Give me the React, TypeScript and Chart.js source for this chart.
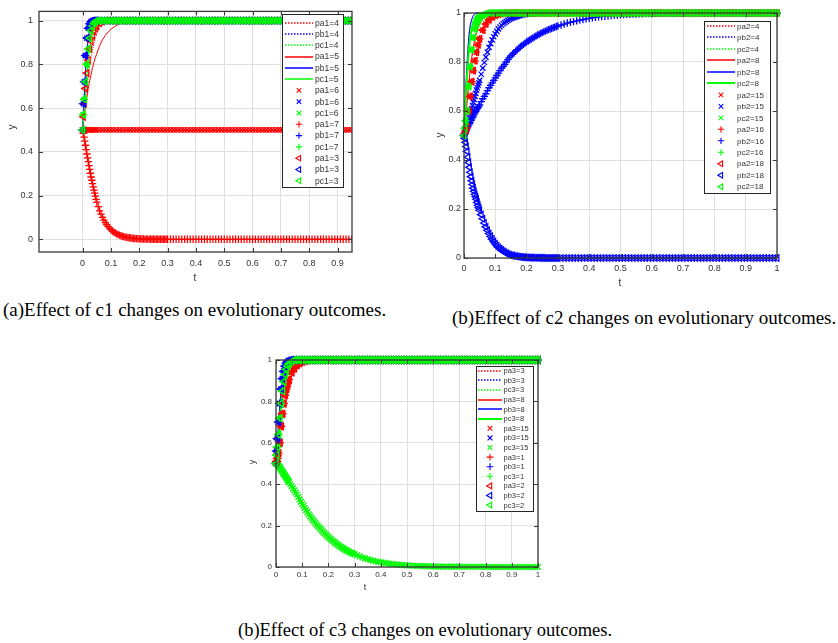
import React, { useEffect, useRef } from 'react';
import { Chart, registerables } from 'chart.js';

Chart.register(...registerables);

// ---------- time axis (t) for most series ----------
const T = [
  0, 0.003, 0.006, 0.01, 0.015, 0.02, 0.025, 0.03, 0.035, 0.04, 0.045, 0.05,
  0.06, 0.07, 0.08, 0.09, 0.1, 0.11, 0.12, 0.13, 0.14, 0.15, 0.16, 0.17, 0.18, 0.19, 0.2,
  0.21, 0.22, 0.23, 0.24, 0.25, 0.26, 0.27, 0.28, 0.29, 0.3,
  0.31, 0.32, 0.33, 0.34, 0.35, 0.36, 0.37, 0.38, 0.39, 0.4,
  0.41, 0.42, 0.43, 0.44, 0.45, 0.46, 0.47, 0.48, 0.49, 0.5,
  0.51, 0.52, 0.53, 0.54, 0.55, 0.56, 0.57, 0.58, 0.59, 0.6,
  0.61, 0.62, 0.63, 0.64, 0.65, 0.66, 0.67, 0.68, 0.69, 0.7,
  0.71, 0.72, 0.73, 0.74, 0.75, 0.76, 0.77, 0.78, 0.79, 0.8,
  0.81, 0.82, 0.83, 0.84, 0.85, 0.86, 0.87, 0.88, 0.89, 0.9,
  0.91, 0.92, 0.93, 0.94, 0.95, 0.96, 0.97, 0.98, 0.99, 1,
];

// ---------- denser time axis for the slowly changing marker series ----------
const T2 = [
  0, 0.0025, 0.005, 0.0075, 0.01, 0.0125, 0.015, 0.0175, 0.02, 0.0225, 0.025,
  0.0275, 0.03, 0.0325, 0.035, 0.0375, 0.04, 0.0425, 0.045, 0.0475, 0.05,
  0.055, 0.06, 0.065, 0.07, 0.075, 0.08, 0.085, 0.09, 0.095, 0.1,
  0.105, 0.11, 0.115, 0.12, 0.125, 0.13, 0.135, 0.14, 0.145, 0.15,
  0.155, 0.16, 0.165, 0.17, 0.175, 0.18, 0.185, 0.19, 0.195, 0.2,
  0.205, 0.21, 0.215, 0.22, 0.225, 0.23, 0.235, 0.24, 0.245, 0.25,
  0.255, 0.26, 0.265, 0.27, 0.275, 0.28, 0.285, 0.29, 0.295, 0.3,
  0.31, 0.32, 0.33, 0.34, 0.35, 0.36, 0.37, 0.38, 0.39, 0.4,
  0.41, 0.42, 0.43, 0.44, 0.45, 0.46, 0.47, 0.48, 0.49, 0.5,
  0.51, 0.52, 0.53, 0.54, 0.55, 0.56, 0.57, 0.58, 0.59, 0.6,
  0.61, 0.62, 0.63, 0.64, 0.65, 0.66, 0.67, 0.68, 0.69, 0.7,
  0.71, 0.72, 0.73, 0.74, 0.75, 0.76, 0.77, 0.78, 0.79, 0.8,
  0.81, 0.82, 0.83, 0.84, 0.85, 0.86, 0.87, 0.88, 0.89, 0.9,
  0.91, 0.92, 0.93, 0.94, 0.95, 0.96, 0.97, 0.98, 0.99, 1,
];

// tails of T for t = 0.21 .. 1.00 (80 values)
const TAIL_ONE = [
  1, 1, 1, 1, 1, 1, 1, 1, 1, 1,
  1, 1, 1, 1, 1, 1, 1, 1, 1, 1,
  1, 1, 1, 1, 1, 1, 1, 1, 1, 1,
  1, 1, 1, 1, 1, 1, 1, 1, 1, 1,
  1, 1, 1, 1, 1, 1, 1, 1, 1, 1,
  1, 1, 1, 1, 1, 1, 1, 1, 1, 1,
  1, 1, 1, 1, 1, 1, 1, 1, 1, 1,
  1, 1, 1, 1, 1, 1, 1, 1, 1, 1,
];
const TAIL_HALF = [
  0.5, 0.5, 0.5, 0.5, 0.5, 0.5, 0.5, 0.5, 0.5, 0.5,
  0.5, 0.5, 0.5, 0.5, 0.5, 0.5, 0.5, 0.5, 0.5, 0.5,
  0.5, 0.5, 0.5, 0.5, 0.5, 0.5, 0.5, 0.5, 0.5, 0.5,
  0.5, 0.5, 0.5, 0.5, 0.5, 0.5, 0.5, 0.5, 0.5, 0.5,
  0.5, 0.5, 0.5, 0.5, 0.5, 0.5, 0.5, 0.5, 0.5, 0.5,
  0.5, 0.5, 0.5, 0.5, 0.5, 0.5, 0.5, 0.5, 0.5, 0.5,
  0.5, 0.5, 0.5, 0.5, 0.5, 0.5, 0.5, 0.5, 0.5, 0.5,
  0.5, 0.5, 0.5, 0.5, 0.5, 0.5, 0.5, 0.5, 0.5, 0.5,
];

// tails of T2 for t = 0.31 .. 1.00 (70 values)
const TAIL2_ONE = [
  1, 1, 1, 1, 1, 1, 1, 1, 1, 1,
  1, 1, 1, 1, 1, 1, 1, 1, 1, 1,
  1, 1, 1, 1, 1, 1, 1, 1, 1, 1,
  1, 1, 1, 1, 1, 1, 1, 1, 1, 1,
  1, 1, 1, 1, 1, 1, 1, 1, 1, 1,
  1, 1, 1, 1, 1, 1, 1, 1, 1, 1,
  1, 1, 1, 1, 1, 1, 1, 1, 1, 1,
];
const TAIL2_ZERO = [
  0, 0, 0, 0, 0, 0, 0, 0, 0, 0,
  0, 0, 0, 0, 0, 0, 0, 0, 0, 0,
  0, 0, 0, 0, 0, 0, 0, 0, 0, 0,
  0, 0, 0, 0, 0, 0, 0, 0, 0, 0,
  0, 0, 0, 0, 0, 0, 0, 0, 0, 0,
  0, 0, 0, 0, 0, 0, 0, 0, 0, 0,
  0, 0, 0, 0, 0, 0, 0, 0, 0, 0,
];

// ---------- (a) c1 : heads on T for t = 0 .. 0.2 (27 values) ----------
const A_BLUE = [0.5, 0.62, 0.72, 0.84, 0.92, 0.965, 0.985, 0.995, 1, 1, 1, 1, 1, 1, 1, 1, 1, 1, 1, 1, 1, 1, 1, 1, 1, 1, 1];
const A_BLUE2 = [0.5, 0.58, 0.66, 0.76, 0.86, 0.92, 0.96, 0.98, 0.99, 0.996, 1, 1, 1, 1, 1, 1, 1, 1, 1, 1, 1, 1, 1, 1, 1, 1, 1];
const A_GREEN = [0.5, 0.57, 0.64, 0.72, 0.8, 0.87, 0.92, 0.955, 0.975, 0.988, 0.995, 1, 1, 1, 1, 1, 1, 1, 1, 1, 1, 1, 1, 1, 1, 1, 1];
const A_GREEN2 = [0.5, 0.55, 0.6, 0.67, 0.75, 0.82, 0.875, 0.915, 0.945, 0.965, 0.978, 0.987, 0.995, 1, 1, 1, 1, 1, 1, 1, 1, 1, 1, 1, 1, 1, 1];
const A_RED3 = [0.5, 0.56, 0.62, 0.69, 0.76, 0.82, 0.87, 0.905, 0.93, 0.95, 0.965, 0.975, 0.988, 0.995, 1, 1, 1, 1, 1, 1, 1, 1, 1, 1, 1, 1, 1];
const A_RED4 = [0.5, 0.54, 0.58, 0.63, 0.69, 0.745, 0.79, 0.83, 0.865, 0.895, 0.92, 0.94, 0.965, 0.98, 0.99, 0.995, 1, 1, 1, 1, 1, 1, 1, 1, 1, 1, 1];
const A_RED5 = [0.5, 0.535, 0.57, 0.61, 0.65, 0.69, 0.725, 0.755, 0.785, 0.81, 0.83, 0.85, 0.885, 0.912, 0.932, 0.948, 0.96, 0.97, 0.978, 0.985, 0.99, 0.993, 0.996, 0.998, 0.999, 1, 1];
const A_HALF = [0.5, 0.5, 0.5, 0.5, 0.5, 0.5, 0.5, 0.5, 0.5, 0.5, 0.5, 0.5, 0.5, 0.5, 0.5, 0.5, 0.5, 0.5, 0.5, 0.5, 0.5, 0.5, 0.5, 0.5, 0.5, 0.5, 0.5];
// pa1=7 on T2, t = 0 .. 0.3 (71 values)
const A_DOWN = [
  0.5, 0.484, 0.467, 0.449, 0.43, 0.41, 0.39, 0.372, 0.355, 0.337, 0.32,
  0.302, 0.285, 0.27, 0.255, 0.24, 0.225, 0.211, 0.197, 0.183, 0.17,
  0.149, 0.13, 0.115, 0.1, 0.088, 0.076, 0.067, 0.058, 0.051, 0.044,
  0.038, 0.033, 0.029, 0.025, 0.022, 0.019, 0.016, 0.014, 0.012, 0.011,
  0.009, 0.008, 0.007, 0.006, 0.005, 0.004, 0.0035, 0.003, 0.0025, 0.002,
  0.002, 0.0015, 0.0015, 0.001, 0.001, 0.001, 0.001, 0.0005, 0.0005, 0.0005,
  0, 0, 0, 0, 0, 0, 0, 0, 0, 0,
];

// ---------- (b) c2 ----------
const B_BLUE_FAST = [0.5, 0.6, 0.7, 0.8, 0.9, 0.95, 0.975, 0.99, 0.996, 1, 1, 1, 1, 1, 1, 1, 1, 1, 1, 1, 1, 1, 1, 1, 1, 1, 1];
const B_RED = [0.5, 0.51, 0.52, 0.535, 0.6, 0.66, 0.72, 0.765, 0.805, 0.84, 0.87, 0.895, 0.93, 0.955, 0.972, 0.984, 0.991, 0.995, 0.998, 1, 1, 1, 1, 1, 1, 1, 1];
const B_RED2 = [0.5, 0.54, 0.58, 0.64, 0.71, 0.77, 0.82, 0.86, 0.895, 0.92, 0.94, 0.955, 0.975, 0.988, 0.995, 1, 1, 1, 1, 1, 1, 1, 1, 1, 1, 1, 1];
const B_GREEN = [0.5, 0.53, 0.56, 0.6, 0.7, 0.78, 0.85, 0.9, 0.935, 0.955, 0.97, 0.98, 0.99, 0.996, 1, 1, 1, 1, 1, 1, 1, 1, 1, 1, 1, 1, 1];
const B_GREEN2 = [0.5, 0.58, 0.66, 0.75, 0.84, 0.9, 0.94, 0.965, 0.98, 0.99, 0.995, 1, 1, 1, 1, 1, 1, 1, 1, 1, 1, 1, 1, 1, 1, 1, 1];
// pb2=15 on T2 (71 values)
const B_BLUE_X = [
  0.5, 0.508, 0.516, 0.525, 0.535, 0.547, 0.56, 0.572, 0.585, 0.597, 0.61,
  0.622, 0.635, 0.647, 0.66, 0.672, 0.685, 0.695, 0.705, 0.715, 0.725,
  0.75, 0.775, 0.798, 0.82, 0.84, 0.86, 0.875, 0.89, 0.903, 0.915,
  0.925, 0.935, 0.943, 0.95, 0.956, 0.961, 0.966, 0.97, 0.974, 0.977,
  0.98, 0.982, 0.984, 0.986, 0.988, 0.99, 0.992, 0.993, 0.994, 0.995,
  0.996, 0.996, 0.997, 0.997, 0.998, 0.998, 0.999, 0.999, 0.999, 1,
  1, 1, 1, 1, 1, 1, 1, 1, 1, 1,
];
// pb2=16 on T2 (71 + 70 values)
const B_PLUS = [
  0.5, 0.507, 0.514, 0.521, 0.53, 0.536, 0.543, 0.549, 0.555, 0.562, 0.568,
  0.574, 0.58, 0.587, 0.593, 0.599, 0.605, 0.61, 0.615, 0.62, 0.625,
  0.638, 0.65, 0.66, 0.67, 0.683, 0.695, 0.705, 0.715, 0.725, 0.735,
  0.745, 0.755, 0.765, 0.775, 0.782, 0.79, 0.8, 0.81, 0.818, 0.825,
  0.832, 0.838, 0.844, 0.85, 0.856, 0.862, 0.867, 0.872, 0.877, 0.882,
  0.886, 0.89, 0.894, 0.898, 0.902, 0.906, 0.91, 0.913, 0.917, 0.92,
  0.923, 0.926, 0.929, 0.932, 0.935, 0.937, 0.94, 0.942, 0.945, 0.947,
];
const B_PLUS_TAIL = [
  0.951, 0.955, 0.959, 0.962, 0.965, 0.968, 0.971, 0.973, 0.976, 0.978,
  0.98, 0.982, 0.984, 0.986, 0.987, 0.988, 0.99, 0.991, 0.992, 0.993,
  0.994, 0.995, 0.995, 0.996, 0.996, 0.997, 0.997, 0.998, 0.998, 0.998,
  0.999, 0.999, 0.999, 0.999, 0.999, 0.999, 0.999, 0.999, 0.999, 0.999,
  1, 1, 1, 1, 1, 1, 1, 1, 1, 1,
  1, 1, 1, 1, 1, 1, 1, 1, 1, 1,
  1, 1, 1, 1, 1, 1, 1, 1, 1, 1,
];
// pb2=18 on T2 (71 values)
const B_DOWN = [
  0.5, 0.488, 0.472, 0.455, 0.435, 0.412, 0.39, 0.37, 0.35, 0.332, 0.315,
  0.3, 0.285, 0.272, 0.26, 0.25, 0.24, 0.227, 0.215, 0.205, 0.195,
  0.177, 0.16, 0.143, 0.127, 0.113, 0.1, 0.088, 0.077, 0.067, 0.058,
  0.05, 0.043, 0.037, 0.032, 0.027, 0.023, 0.019, 0.016, 0.013, 0.011,
  0.0095, 0.008, 0.007, 0.006, 0.005, 0.004, 0.0035, 0.003, 0.0025, 0.002,
  0.002, 0.0015, 0.0015, 0.001, 0.001, 0.001, 0.001, 0.0005, 0.0005, 0.0005,
  0, 0, 0, 0, 0, 0, 0, 0, 0, 0,
];

// ---------- (c) c3 ----------
const C_BLUE = [0.5, 0.56, 0.62, 0.7, 0.79, 0.86, 0.91, 0.945, 0.97, 0.985, 0.993, 0.997, 1, 1, 1, 1, 1, 1, 1, 1, 1, 1, 1, 1, 1, 1, 1];
const C_GREEN = [0.5, 0.54, 0.58, 0.64, 0.72, 0.79, 0.85, 0.895, 0.93, 0.955, 0.972, 0.983, 0.994, 1, 1, 1, 1, 1, 1, 1, 1, 1, 1, 1, 1, 1, 1];
const C_RED = [0.5, 0.51, 0.525, 0.55, 0.6, 0.68, 0.74, 0.79, 0.83, 0.86, 0.885, 0.905, 0.94, 0.96, 0.975, 0.985, 0.992, 0.996, 0.998, 1, 1, 1, 1, 1, 1, 1, 1];
const C_RED2 = [0.5, 0.54, 0.58, 0.64, 0.71, 0.78, 0.83, 0.87, 0.9, 0.925, 0.945, 0.96, 0.978, 0.99, 0.996, 1, 1, 1, 1, 1, 1, 1, 1, 1, 1, 1, 1];
// pc3=15 on T2 (71 + 70 values)
const C_DOWN = [
  0.5, 0.4995, 0.498, 0.495, 0.49, 0.485, 0.48, 0.475, 0.47, 0.465, 0.46,
  0.455, 0.45, 0.445, 0.44, 0.435, 0.43, 0.425, 0.42, 0.415, 0.41,
  0.4, 0.39, 0.38, 0.37, 0.36, 0.35, 0.338, 0.327, 0.316, 0.305,
  0.295, 0.285, 0.275, 0.265, 0.255, 0.246, 0.237, 0.229, 0.221, 0.213,
  0.205, 0.198, 0.191, 0.184, 0.177, 0.17, 0.163, 0.157, 0.151, 0.145,
  0.139, 0.134, 0.128, 0.123, 0.118, 0.113, 0.108, 0.104, 0.099, 0.095,
  0.091, 0.087, 0.083, 0.08, 0.076, 0.073, 0.07, 0.067, 0.064, 0.061,
];
const C_DOWN_TAIL = [
  0.056, 0.051, 0.046, 0.042, 0.038, 0.034, 0.031, 0.028, 0.025, 0.023,
  0.021, 0.019, 0.017, 0.015, 0.013, 0.012, 0.011, 0.01, 0.009, 0.008,
  0.007, 0.006, 0.006, 0.005, 0.005, 0.004, 0.004, 0.003, 0.003, 0.003,
  0.002, 0.002, 0.002, 0.002, 0.002, 0.002, 0.002, 0.002, 0.002, 0.002,
  0.001, 0.001, 0.001, 0.001, 0.001, 0.001, 0.001, 0.001, 0.001, 0.001,
  0, 0, 0, 0, 0, 0, 0, 0, 0, 0,
  0, 0, 0, 0, 0, 0, 0, 0, 0, 0,
];

// ---------- ticks ----------
const A_XTICKS = [0, 0.1, 0.2, 0.3, 0.4, 0.5, 0.6, 0.7, 0.8, 0.9];
const BC_XTICKS = [0, 0.1, 0.2, 0.3, 0.4, 0.5, 0.6, 0.7, 0.8, 0.9, 1];
const Y_TICKS = [0, 0.2, 0.4, 0.6, 0.8, 1];

// ---------- captions ----------
const CAPTION_A = '(a)Effect of c1 changes on evolutionary outcomes.';
const CAPTION_B = '(b)Effect of c2 changes on evolutionary outcomes.';
const CAPTION_C = '(b)Effect of c3 changes on evolutionary outcomes.';

const RED = '#ff0000';
const BLUE = '#0000ff';
const GREEN = '#00ff00';
const SANS = '"Liberation Sans", Arial, sans-serif';
const AXIS = '#3a3a3a';
const TXT = '#333333';
const GRID = '#e0e0e0';

type Kind = 'dot' | 'solid' | 'x' | 'plus' | 'tri';
type S = { label: string; color: string; kind: Kind; t: number[]; head: number[]; tail: number[]; width?: number };

const SERIES_A: S[] = [
  { label: 'pa1=4', color: RED, kind: 'dot', t: T, head: A_RED4, tail: TAIL_ONE },
  { label: 'pb1=4', color: BLUE, kind: 'dot', t: T, head: A_BLUE2, tail: TAIL_ONE },
  { label: 'pc1=4', color: GREEN, kind: 'dot', t: T, head: A_GREEN2, tail: TAIL_ONE },
  { label: 'pa1=5', color: RED, kind: 'solid', t: T, head: A_RED5, tail: TAIL_ONE },
  { label: 'pb1=5', color: BLUE, kind: 'solid', t: T, head: A_BLUE2, tail: TAIL_ONE },
  { label: 'pc1=5', color: GREEN, kind: 'solid', t: T, head: A_GREEN2, tail: TAIL_ONE },
  { label: 'pa1=6', color: RED, kind: 'x', t: T, head: A_HALF, tail: TAIL_HALF },
  { label: 'pb1=6', color: BLUE, kind: 'x', t: T, head: A_BLUE, tail: TAIL_ONE },
  { label: 'pc1=6', color: GREEN, kind: 'x', t: T, head: A_GREEN, tail: TAIL_ONE },
  { label: 'pa1=7', color: RED, kind: 'plus', t: T2, head: A_DOWN, tail: TAIL2_ZERO },
  { label: 'pb1=7', color: BLUE, kind: 'plus', t: T, head: A_BLUE, tail: TAIL_ONE },
  { label: 'pc1=7', color: GREEN, kind: 'plus', t: T, head: A_GREEN, tail: TAIL_ONE },
  { label: 'pa1=3', color: RED, kind: 'tri', t: T, head: A_RED3, tail: TAIL_ONE },
  { label: 'pb1=3', color: BLUE, kind: 'tri', t: T, head: A_BLUE, tail: TAIL_ONE },
  { label: 'pc1=3', color: GREEN, kind: 'tri', t: T, head: A_GREEN, tail: TAIL_ONE },
];

const SERIES_B: S[] = [
  { label: 'pa2=4', color: RED, kind: 'dot', t: T, head: B_RED2, tail: TAIL_ONE },
  { label: 'pb2=4', color: BLUE, kind: 'dot', t: T, head: B_BLUE_FAST, tail: TAIL_ONE },
  { label: 'pc2=4', color: GREEN, kind: 'dot', t: T, head: B_GREEN2, tail: TAIL_ONE },
  { label: 'pa2=8', color: RED, kind: 'solid', t: T, head: B_RED2, tail: TAIL_ONE },
  { label: 'pb2=8', color: BLUE, kind: 'solid', t: T, head: B_BLUE_FAST, tail: TAIL_ONE },
  { label: 'pc2=8', color: GREEN, kind: 'solid', t: T, head: B_GREEN2, tail: TAIL_ONE, width: 2 },
  { label: 'pa2=15', color: RED, kind: 'x', t: T, head: B_RED, tail: TAIL_ONE },
  { label: 'pb2=15', color: BLUE, kind: 'x', t: T2, head: B_BLUE_X, tail: TAIL2_ONE },
  { label: 'pc2=15', color: GREEN, kind: 'x', t: T, head: B_GREEN, tail: TAIL_ONE },
  { label: 'pa2=16', color: RED, kind: 'plus', t: T, head: B_RED, tail: TAIL_ONE },
  { label: 'pb2=16', color: BLUE, kind: 'plus', t: T2, head: B_PLUS, tail: B_PLUS_TAIL },
  { label: 'pc2=16', color: GREEN, kind: 'plus', t: T, head: B_GREEN, tail: TAIL_ONE },
  { label: 'pa2=18', color: RED, kind: 'tri', t: T, head: B_RED, tail: TAIL_ONE },
  { label: 'pb2=18', color: BLUE, kind: 'tri', t: T2, head: B_DOWN, tail: TAIL2_ZERO },
  { label: 'pc2=18', color: GREEN, kind: 'tri', t: T, head: B_GREEN, tail: TAIL_ONE },
];

const SERIES_C: S[] = [
  { label: 'pa3=3', color: RED, kind: 'dot', t: T, head: C_RED2, tail: TAIL_ONE },
  { label: 'pb3=3', color: BLUE, kind: 'dot', t: T, head: C_BLUE, tail: TAIL_ONE },
  { label: 'pc3=3', color: GREEN, kind: 'dot', t: T, head: C_GREEN, tail: TAIL_ONE },
  { label: 'pa3=8', color: RED, kind: 'solid', t: T, head: C_RED2, tail: TAIL_ONE },
  { label: 'pb3=8', color: BLUE, kind: 'solid', t: T, head: C_BLUE, tail: TAIL_ONE },
  { label: 'pc3=8', color: GREEN, kind: 'solid', t: T, head: C_GREEN, tail: TAIL_ONE, width: 2 },
  { label: 'pa3=15', color: RED, kind: 'x', t: T, head: C_RED, tail: TAIL_ONE },
  { label: 'pb3=15', color: BLUE, kind: 'x', t: T, head: C_BLUE, tail: TAIL_ONE },
  { label: 'pc3=15', color: GREEN, kind: 'x', t: T2, head: C_DOWN, tail: C_DOWN_TAIL },
  { label: 'pa3=1', color: RED, kind: 'plus', t: T, head: C_RED, tail: TAIL_ONE },
  { label: 'pb3=1', color: BLUE, kind: 'plus', t: T, head: C_BLUE, tail: TAIL_ONE },
  { label: 'pc3=1', color: GREEN, kind: 'plus', t: T, head: C_GREEN, tail: TAIL_ONE },
  { label: 'pa3=2', color: RED, kind: 'tri', t: T, head: C_RED, tail: TAIL_ONE },
  { label: 'pb3=2', color: BLUE, kind: 'tri', t: T, head: C_BLUE, tail: TAIL_ONE },
  { label: 'pc3=2', color: GREEN, kind: 'tri', t: T, head: C_GREEN, tail: TAIL_ONE },
];

type Spec = {
  left: number; top: number; w: number; h: number;
  area: { l: number; t: number; r: number; b: number };
  xMin: number; xMax: number; yMin: number; yMax: number;
  xTicks: number[]; tickFont: number; xPad: number; yPad: number;
  tX: number; tY: number; yX: number; yY: number; titleFont: number;
  lg: { x: number; y: number; w: number; h: number; row0: number; dy: number; sx0: number; sx1: number; mx: number; tx: number; font: number };
  marker: number; markerW: number; clip: any; series: S[];
};

const SPEC_A: Spec = {
  left: 0, top: 0, w: 370, h: 292, area: { l: 39, t: 6, r: 352, b: 252 },
  xMin: -0.154, xMax: 0.951, yMin: -0.058, yMax: 1.042,
  xTicks: A_XTICKS, tickFont: 9, xPad: 6, yPad: 6,
  tX: 195, tY: 278, yX: 12, yY: 127, titleFont: 10,
  lg: { x: 282, y: 14, w: 61, h: 173, row0: 22.7, dy: 11.29, sx0: 285, sx1: 313, mx: 299, tx: 315, font: 8.5 },
  marker: 3.7, markerW: 1.3, clip: { left: 8, top: 8, right: 0, bottom: 8 }, series: SERIES_A,
};

const SPEC_B: Spec = {
  left: 420, top: 0, w: 418, h: 300, area: { l: 44, t: 13, r: 357, b: 258 },
  xMin: 0, xMax: 1, yMin: 0, yMax: 1,
  xTicks: BC_XTICKS, tickFont: 9, xPad: 5, yPad: 3,
  tX: 200, tY: 283, yX: 20, yY: 135, titleFont: 10,
  lg: { x: 284, y: 21, w: 66, h: 172, row0: 26, dy: 11.48, sx0: 287, sx1: 315, mx: 301, tx: 317, font: 8 },
  marker: 3.7, markerW: 1.3, clip: 8, series: SERIES_B,
};

const SPEC_C: Spec = {
  left: 230, top: 345, w: 330, h: 260, area: { l: 46, t: 15, r: 308, b: 222 },
  xMin: 0, xMax: 1, yMin: 0, yMax: 1,
  xTicks: BC_XTICKS, tickFont: 8, xPad: 3, yPad: 4,
  tX: 135, tY: 243, yX: 23, yY: 117, titleFont: 9,
  lg: { x: 246, y: 21, w: 57, h: 145, row0: 25.7, dy: 9.6, sx0: 248, sx1: 272, mx: 260, tx: 273.5, font: 7.5 },
  marker: 4, markerW: 1.4, clip: 8, series: SERIES_C,
};

function drawMarker(ctx: CanvasRenderingContext2D, kind: Kind, x: number, y: number, r: number) {
  ctx.beginPath();
  if (kind === 'x') {
    const d = r * Math.SQRT1_2;
    ctx.moveTo(x - d, y - d); ctx.lineTo(x + d, y + d);
    ctx.moveTo(x - d, y + d); ctx.lineTo(x + d, y - d);
  } else if (kind === 'plus') {
    ctx.moveTo(x - r, y); ctx.lineTo(x + r, y);
    ctx.moveTo(x, y - r); ctx.lineTo(x, y + r);
  } else {
    ctx.moveTo(x - r, y);
    ctx.lineTo(x + r * 0.5, y - r * 0.866);
    ctx.lineTo(x + r * 0.5, y + r * 0.866);
    ctx.closePath();
  }
  ctx.stroke();
}

function decoPlugin(spec: Spec) {
  return {
    id: 'matlabDeco',
    afterDraw(chart: any) {
      const ctx: CanvasRenderingContext2D = chart.ctx;
      const { left, right, top, bottom } = chart.chartArea;
      const xs = chart.scales.x;
      const ys = chart.scales.y;
      ctx.save();
      // inward ticks on all four sides
      ctx.strokeStyle = AXIS;
      ctx.lineWidth = 1;
      ctx.beginPath();
      const L = 4;
      xs.ticks.forEach((tk: any) => {
        const p = Math.round(xs.getPixelForValue(tk.value)) + 0.5;
        ctx.moveTo(p, bottom); ctx.lineTo(p, bottom - L);
        ctx.moveTo(p, top); ctx.lineTo(p, top + L);
      });
      ys.ticks.forEach((tk: any) => {
        const p = Math.round(ys.getPixelForValue(tk.value)) + 0.5;
        ctx.moveTo(left, p); ctx.lineTo(left + L, p);
        ctx.moveTo(right, p); ctx.lineTo(right - L, p);
      });
      ctx.stroke();
      // axes box
      ctx.lineWidth = 1.3;
      ctx.strokeRect(left, top, right - left, bottom - top);
      // axis titles
      ctx.fillStyle = TXT;
      ctx.font = `${spec.titleFont}px ${SANS}`;
      ctx.textAlign = 'center';
      ctx.textBaseline = 'middle';
      ctx.fillText('t', spec.tX, spec.tY);
      ctx.save();
      ctx.translate(spec.yX, spec.yY);
      ctx.rotate(-Math.PI / 2);
      ctx.fillText('y', 0, 0);
      ctx.restore();
      // legend
      const lg = spec.lg;
      ctx.fillStyle = '#ffffff';
      ctx.fillRect(lg.x, lg.y, lg.w, lg.h);
      ctx.strokeStyle = '#262626';
      ctx.lineWidth = 1;
      ctx.strokeRect(lg.x + 0.5, lg.y + 0.5, lg.w, lg.h);
      ctx.font = `${lg.font}px ${SANS}`;
      ctx.textAlign = 'left';
      ctx.textBaseline = 'middle';
      spec.series.forEach((s, i) => {
        const cy = lg.row0 + i * lg.dy;
        ctx.strokeStyle = s.color;
        if (s.kind === 'dot' || s.kind === 'solid') {
          const w = s.width ?? 1.5;
          ctx.lineWidth = w;
          ctx.setLineDash(s.kind === 'dot' ? [1.5, 1.5] : []);
          ctx.beginPath();
          ctx.moveTo(lg.sx0, Math.round(cy));
          ctx.lineTo(lg.sx1, Math.round(cy));
          ctx.stroke();
          ctx.setLineDash([]);
        } else {
          ctx.lineWidth = 1.1;
          drawMarker(ctx, s.kind, lg.mx, cy, spec.marker * 0.85);
        }
        ctx.fillStyle = TXT;
        ctx.fillText(s.label, lg.tx, cy + 0.5);
      });
      ctx.restore();
    },
  };
}

function buildConfig(spec: Spec): any {
  const n = spec.series.length;
  const datasets = spec.series.map((s, i) => {
    const ys = [...s.head, ...s.tail];
    const isLine = s.kind === 'dot' || s.kind === 'solid';
    return {
      label: s.label,
      data: s.t.map((t, k) => ({ x: t, y: ys[k] })),
      showLine: isLine,
      borderColor: s.color,
      backgroundColor: 'rgba(0,0,0,0)',
      borderWidth: isLine ? (s.width ?? 1) : 1,
      borderDash: s.kind === 'dot' ? [1, 1.5] : [],
      tension: 0,
      pointRadius: isLine ? 0 : spec.marker,
      pointStyle: s.kind === 'x' ? 'crossRot' : s.kind === 'plus' ? 'cross' : 'triangle',
      rotation: s.kind === 'tri' ? -90 : 0,
      pointBorderColor: s.color,
      pointBackgroundColor: 'rgba(0,0,0,0)',
      pointBorderWidth: spec.markerW,
      order: n - i,
      clip: spec.clip,
    };
  });
  const tickFont = { family: SANS, size: spec.tickFont };
  return {
    type: 'scatter',
    data: { datasets },
    plugins: [decoPlugin(spec)],
    options: {
      animation: false,
      responsive: false,
      maintainAspectRatio: false,
      devicePixelRatio: 1,
      events: [],
      layout: { padding: { left: 0, top: spec.area.t, right: spec.w - spec.area.r, bottom: 0 } },
      plugins: { legend: { display: false }, tooltip: { enabled: false } },
      scales: {
        x: {
          type: 'linear',
          min: spec.xMin,
          max: spec.xMax,
          afterBuildTicks: (sc: any) => { sc.ticks = spec.xTicks.map((v) => ({ value: v })); },
          afterFit: (sc: any) => { sc.height = spec.h - spec.area.b; },
          grid: { color: GRID, lineWidth: 1, drawTicks: false, tickLength: 0 },
          border: { display: false },
          ticks: { font: tickFont, color: TXT, padding: spec.xPad, maxRotation: 0, autoSkip: false, callback: (v: any) => String(v) },
        },
        y: {
          type: 'linear',
          min: spec.yMin,
          max: spec.yMax,
          afterBuildTicks: (sc: any) => { sc.ticks = Y_TICKS.map((v) => ({ value: v })); },
          afterFit: (sc: any) => { sc.width = spec.area.l; },
          grid: { color: GRID, lineWidth: 1, drawTicks: false, tickLength: 0 },
          border: { display: false },
          ticks: { font: tickFont, color: TXT, padding: spec.yPad, autoSkip: false, callback: (v: any) => String(v) },
        },
      },
    },
  };
}

function Plot({ spec }: { spec: Spec }) {
  const ref = useRef<HTMLCanvasElement>(null);
  useEffect(() => {
    const chart = new Chart(ref.current as HTMLCanvasElement, buildConfig(spec));
    return () => chart.destroy();
  }, [spec]);
  return (
    <canvas
      ref={ref}
      width={spec.w}
      height={spec.h}
      style={{ position: 'absolute', left: spec.left, top: spec.top, width: spec.w, height: spec.h }}
    />
  );
}

const capStyle: React.CSSProperties = {
  position: 'absolute',
  fontFamily: '"Liberation Serif", "Times New Roman", serif',
  fontSize: 19,
  lineHeight: '20px',
  color: '#000',
  whiteSpace: 'nowrap',
};

export default function App() {
  return (
    <div style={{ position: 'absolute', left: 0, top: 0, width: 838, height: 643, background: '#fff', overflow: 'hidden' }}>
      <Plot spec={SPEC_A} />
      <Plot spec={SPEC_B} />
      <Plot spec={SPEC_C} />
      <div style={{ ...capStyle, left: 3, top: 300 }}>{CAPTION_A}</div>
      <div style={{ ...capStyle, left: 452, top: 308 }}>{CAPTION_B}</div>
      <div style={{ ...capStyle, left: 238, top: 620, fontSize: 18.5 }}>{CAPTION_C}</div>
    </div>
  );
}
